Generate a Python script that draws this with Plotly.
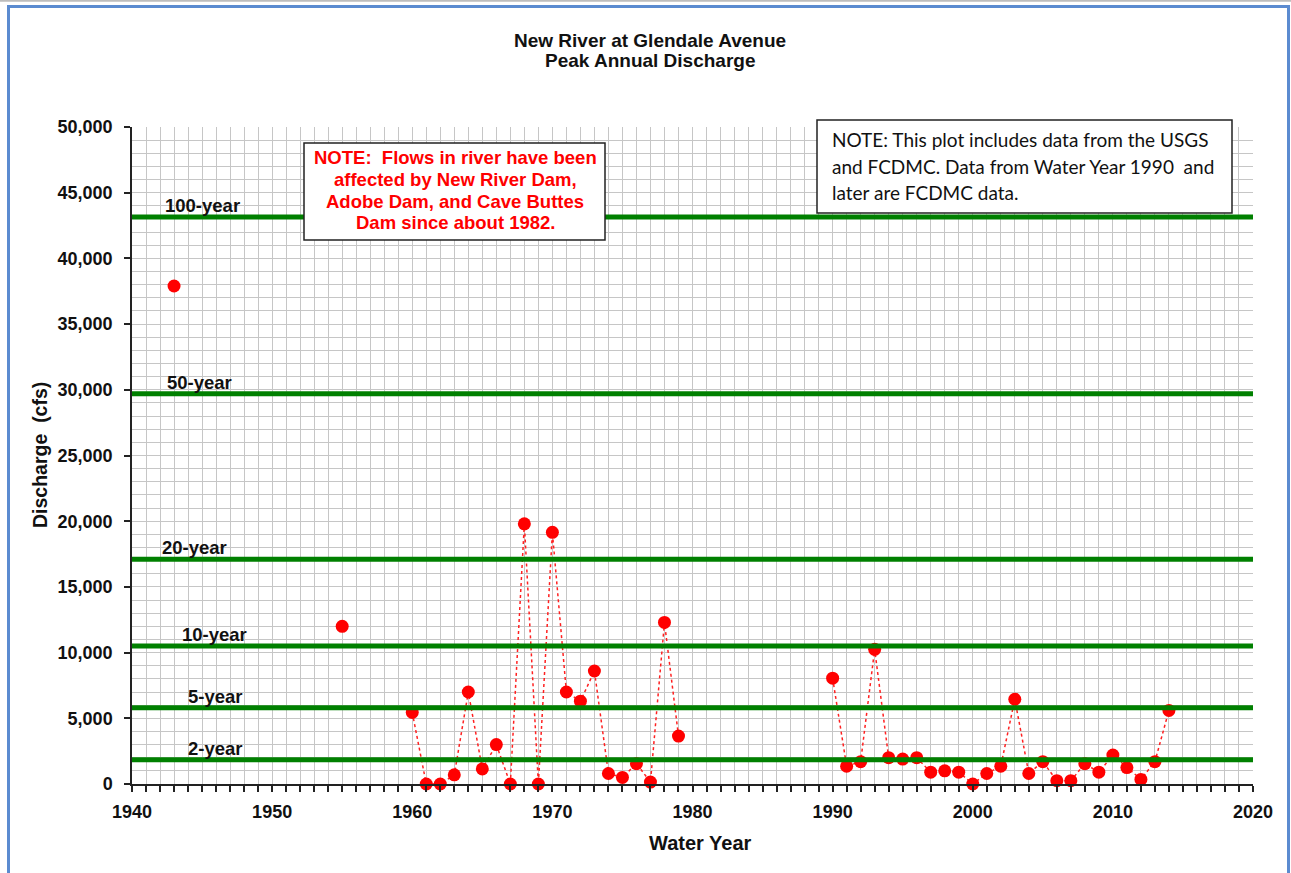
import plotly.graph_objects as go

# ---------------- data ----------------
years = [1943, 1955,
         1960, 1961, 1962, 1963, 1964, 1965, 1966, 1967, 1968, 1969,
         1970, 1971, 1972, 1973, 1974, 1975, 1976, 1977, 1978, 1979,
         1990, 1991, 1992, 1993, 1994, 1995, 1996, 1997, 1998, 1999,
         2000, 2001, 2002, 2003, 2004, 2005, 2006, 2007, 2008, 2009,
         2010, 2011, 2012, 2013, 2014]
peak_cfs = [37900, 12000,
            5450, 0, 0, 700, 7000, 1150, 3000, 0, 19800, 0,
            19150, 7000, 6300, 8600, 800, 500, 1550, 150, 12300, 3650,
            8050, 1350, 1700, 10250, 2000, 1900, 2000, 900, 1000, 900,
            0, 800, 1350, 6450, 800, 1700, 250, 250, 1550, 900,
            2200, 1250, 350, 1700, 5600]

return_periods = ["2-year", "5-year", "10-year", "20-year", "50-year", "100-year"]
return_flows = [1850, 5800, 10500, 17100, 29700, 43150]

x_range = [1940, 2020]
y_range = [0, 50000]

title_lines = ["New River at Glendale Avenue", "Peak Annual Discharge"]
note_red = ["NOTE:\u00a0 Flows in river have been", "affected by New River Dam,",
            "Adobe Dam, and Cave Buttes", "Dam since about 1982."]
note_black = ["NOTE: This plot includes data from the USGS",
              "and FCDMC. Data from Water Year 1990\u00a0 and",
              "later are FCDMC data."]

# ---------------- styling / layout ----------------
FONT = "Arial, 'Liberation Sans', sans-serif"
TXT = "#111111"
GRID = "#C6C6C6"
W, H = 1291, 873
ML, MR, MT, MB = 132, 38, 127, 89
PW, PH = W - ML - MR, H - MT - MB


def px_to_paper(xp, yp):
    return (xp - ML) / PW, (H - MB - yp) / PH


# break the connecting line where years are not consecutive
line_x, line_y = [], []
for i, (yr, q) in enumerate(zip(years, peak_cfs)):
    if i > 0 and yr - years[i - 1] > 1:
        line_x.append(None)
        line_y.append(None)
    line_x.append(yr)
    line_y.append(q)

fig = go.Figure()

fig.add_trace(go.Scatter(
    x=line_x, y=line_y, mode="lines+markers", connectgaps=False,
    line=dict(color="#FF2020", width=1.5, dash="dot"),
    marker=dict(color="#FF0000", size=13, line=dict(width=0)),
    cliponaxis=False, showlegend=False, name="Peak discharge"))

for name, q in zip(return_periods, return_flows):
    fig.add_trace(go.Scatter(
        x=x_range, y=[q, q], mode="lines",
        line=dict(color="#008000", width=5),
        showlegend=False, name=name, hoverinfo="skip"))

# label x positions (in years) for return-period labels
label_x = {"2-year": 1943.85, "5-year": 1943.85, "10-year": 1943.4,
           "20-year": 1942.0, "50-year": 1942.35, "100-year": 1942.2}

annotations = []
for name, q in zip(return_periods, return_flows):
    annotations.append(dict(
        x=label_x[name], y=q, xref="x", yref="y", text=name,
        showarrow=False, xanchor="left", yanchor="bottom", yshift=-1,
        font=dict(family=FONT, size=18.5, color=TXT, weight="bold")))


def text_line(xp, yp, text, size, color, anchor="center", family=FONT, weight="bold"):
    px, py = px_to_paper(xp, yp)
    return dict(x=px, y=py, xref="paper", yref="paper", xanchor=anchor,
                yanchor="middle", text=text, showarrow=False,
                font=dict(family=family, size=size, color=color, weight=weight))


# title
for yp, t in zip([40, 61], title_lines):
    annotations.append(text_line(650, yp, t, 19, TXT))

# red note
for yp, t in zip([157, 179, 201, 222], note_red):
    annotations.append(text_line(455, yp, t, 18.5, "#FF0000"))

# black note
for yp, t in zip([139, 166, 192], note_black):
    annotations.append(text_line(830, yp, t, 19, "#111111", anchor="left",
                                 family="Lato, 'Open Sans', sans-serif", weight="normal"))

# axis titles
annotations.append(text_line(700, 843, "Water Year", 20, TXT))
ax, ay = px_to_paper(40, 455)
annotations.append(dict(
    x=ax, y=ay, xref="paper", yref="paper", xanchor="center", yanchor="middle",
    text="Discharge\u00a0 (cfs)", showarrow=False, textangle=-90,
    font=dict(family=FONT, size=19.5, color=TXT, weight="bold")))


def rect_px(x0, y0, x1, y1, **kw):
    a0, b0 = px_to_paper(x0, y0)
    a1, b1 = px_to_paper(x1, y1)
    return dict(type="rect", xref="paper", yref="paper", x0=a0, x1=a1, y0=b1, y1=b0, **kw)


shapes = [
    # note boxes
    rect_px(304, 143, 605, 240, line=dict(color="#222222", width=1.5),
            fillcolor="white", layer="above"),
    rect_px(817, 120, 1232, 213, line=dict(color="#222222", width=1.5),
            fillcolor="white", layer="above"),
    # outer chart border
    rect_px(8.5, 6.5, 1288.5, 900, line=dict(color="#5B8BD0", width=3),
            fillcolor="rgba(0,0,0,0)"),
]
gx0, gy0 = px_to_paper(0, 0.8)
gx1, _ = px_to_paper(W, 0.8)
shapes.append(dict(type="line", xref="paper", yref="paper", x0=gx0, x1=gx1,
                   y0=gy0, y1=gy0, line=dict(color="#BDBDBD", width=2)))

fig.update_layout(
    width=W, height=H,
    margin=dict(l=ML, r=MR, t=MT, b=MB, autoexpand=False),
    paper_bgcolor="white", plot_bgcolor="white",
    annotations=annotations, shapes=shapes, showlegend=False,
)

fig.update_xaxes(
    range=x_range, dtick=10, tick0=1940, tickformat="d",
    showgrid=True, gridcolor=GRID, gridwidth=1,
    showline=True, linecolor="#222222", linewidth=1.5, zeroline=False,
    ticks="outside", ticklen=6, tickcolor="#222222", tickwidth=1.5,
    ticklabelstandoff=5,
    tickfont=dict(family=FONT, size=18, color=TXT, weight="bold"),
    minor=dict(dtick=1, tick0=1940, showgrid=True, gridcolor=GRID, gridwidth=1,
               ticks="outside", ticklen=6, tickcolor="#222222", tickwidth=1.5),
)
fig.update_yaxes(
    range=y_range, dtick=5000, tick0=0, tickformat=",d",
    showgrid=True, gridcolor=GRID, gridwidth=1,
    showline=True, linecolor="#222222", linewidth=1.5, zeroline=False,
    ticks="outside", ticklen=6, tickcolor="#222222", tickwidth=1.5,
    ticklabelstandoff=8,
    tickfont=dict(family=FONT, size=18, color=TXT, weight="bold"),
    minor=dict(dtick=1000, tick0=0, showgrid=True, gridcolor=GRID, gridwidth=1),
)

fig.write_html("out.html", config={"displayModeBar": False},
               post_script="document.body.style.margin='0';")
